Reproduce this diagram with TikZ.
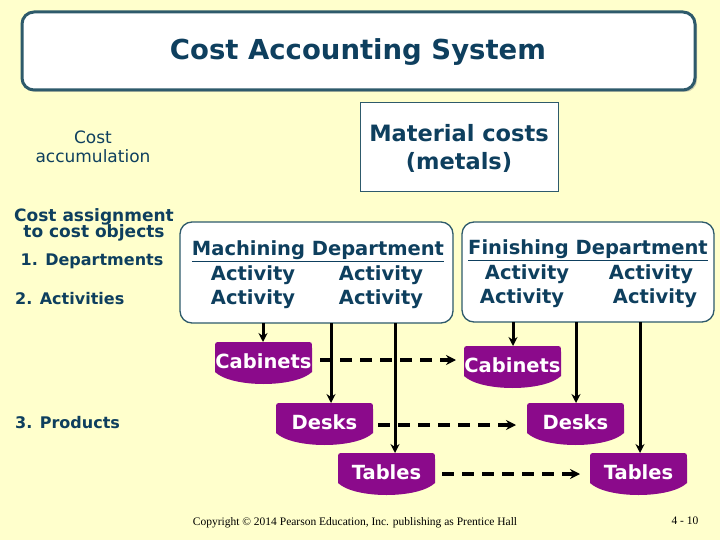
\documentclass[tikz,border=0pt]{standalone}
\usepackage{fontspec}
\setmainfont{DejaVu Sans}
\newfontfamily\timesf{Liberation Serif}
\usetikzlibrary{shadows,arrows.meta}
\definecolor{bg}{HTML}{FFFFCC}
\definecolor{txt}{HTML}{0E3F5E}
\definecolor{bord}{HTML}{2E5A6B}
\definecolor{pur}{HTML}{8B0A8B}
\tikzset{
  lbl/.style={font=\bfseries\fontsize{16}{16}\selectfont, text=txt, align=center, inner sep=0},
  act/.style={font=\bfseries\fontsize{19.5}{19.5}\selectfont, text=txt, inner sep=0},
  dept/.style={draw=bord, line width=1.3pt, fill=white, rounded corners=12pt},
  ptext/.style={font=\bfseries\fontsize{19.5}{19.5}\selectfont, text=white, inner sep=0},
  solidarr/.style={line width=3pt, -{Stealth[length=9pt,width=9pt]}},
  dasharr/.style={line width=3.5pt, dash pattern=on 12pt off 8pt, -{Stealth[length=10pt,width=10pt]}},
}
\newcommand\prodshape[4]{%
  \begin{scope}[shift={(#2,#3)}]
    \fill[pur] (0,30) -- (0,6) .. controls (0,0) .. (6,0) -- (91,0) .. controls (97,0) .. (97,6) -- (97,30) .. controls (80,46) and (17,46) .. (0,30) -- cycle;
    \node[ptext] (#1) at (48.5,19) {#4};
  \end{scope}}
\begin{document}
\begin{tikzpicture}[x=1pt,y=-1pt]
\fill[bg] (0,0) rectangle (720,540);
\useasboundingbox (0,0) rectangle (720,540);
% title
\draw[bord, line width=3pt, fill=white, rounded corners=12pt, drop shadow={shadow xshift=2pt, shadow yshift=-2pt, opacity=0.4}] (22,12) rectangle (695,90);
\node[font=\bfseries\fontsize{27.5}{27.5}\selectfont, text=txt] (title) at (358,52) {Cost Accounting System};
% left labels
\node[font=\fontsize{17}{19}\selectfont, text=txt, align=center] (accum) at (93,147) {Cost\\accumulation};
\node[lbl, font=\bfseries\fontsize{17}{16}\selectfont] (assign) at (94,225) {Cost assignment\\[-2pt]to cost objects};
\node[lbl] (deps) at (92,261) {1. Departments};
\node[lbl, anchor=west] (acts) at (15,299) {2. Activities};
\node[lbl, anchor=west] (prods) at (15,423) {3. Products};
% material
\draw[bord, line width=0.8pt, fill=white] (360,102) rectangle (558,191);
\node[font=\bfseries\fontsize{22.5}{28}\selectfont, text=txt, align=center] (mat) at (459,148) {Material costs\\(metals)};
% departments
\draw[dept] (180,222) rectangle (453,323);
\draw[dept] (462,222) rectangle (714,322);
\node[act] (mh) at (318,251) {\underline{Machining Department}};
\node[act] (ma1) at (253,275) {Activity};
\node[act] (ma2) at (381,275) {Activity};
\node[act] (ma3) at (253,299) {Activity};
\node[act] (ma4) at (381,299) {Activity};
\node[act] (fh) at (588,250) {\underline{Finishing Department}};
\node[act] (fa1) at (527,274) {Activity};
\node[act] (fa2) at (651,274) {Activity};
\node[act] (fa3) at (522,298) {Activity};
\node[act] (fa4) at (655,298) {Activity};
% products
\prodshape{cab1}{215}{342}{Cabinets}
\prodshape{cab2}{464}{346}{Cabinets}
\prodshape{desk1}{276}{403}{Desks}
\prodshape{desk2}{527}{403}{Desks}
\prodshape{tab1}{338}{453}{Tables}
\prodshape{tab2}{590}{453}{Tables}
% solid arrows
\coordinate (m1) at (263,323); \coordinate (m2) at (331,323); \coordinate (m3) at (395,323);
\coordinate (f1) at (513,322); \coordinate (f2) at (576,322); \coordinate (f3) at (640,322);
\draw[solidarr] (m1) -- (263,342);
\draw[solidarr] (m2) -- (331,403);
\draw[solidarr] (m3) -- (395,453);
\draw[solidarr] (f1) -- (513,346);
\draw[solidarr] (f2) -- (576,403);
\draw[solidarr] (f3) -- (640,453);
% dashed arrows
\draw[dasharr] (320,360) -- (456,360);
\draw[dasharr] (378,425) -- (516,425);
\draw[dasharr] (442,474) -- (580,474);
% footer
\node[font=\timesf\fontsize{11.5}{12}\selectfont] (copy) at (355,523) {Copyright \textcopyright{} 2014 Pearson Education, Inc. publishing as Prentice Hall};
\node[font=\timesf\fontsize{11.5}{12}\selectfont] (pg) at (685,521) {4 - 10};
\end{tikzpicture}
\end{document}
